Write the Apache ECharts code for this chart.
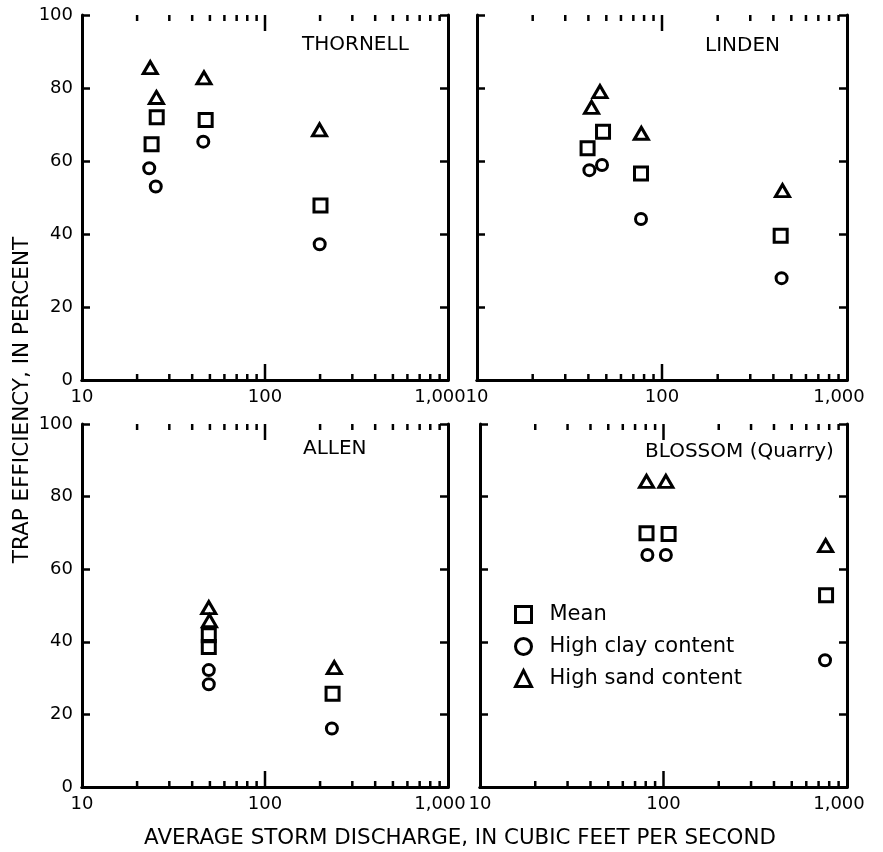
<!DOCTYPE html>
<html>
<head>
<meta charset="utf-8">
<script src="https://cdn.jsdelivr.net/npm/echarts@6/dist/echarts.min.js"></script>
<style>
html,body{margin:0;padding:0;background:#fff;}
#chart{width:883px;height:852px;}
</style>
</head>
<body>
<div id="chart"></div>
<script>
// ---- Data ----
const panelNames = ['THORNELL', 'LINDEN', 'ALLEN', 'BLOSSOM (Quarry)'];
const seriesNames = ['Mean', 'High clay content', 'High sand content'];
const xTickLabels = [10, 100, 1000];
const yTickLabels = [0, 20, 40, 60, 80, 100];
const minorTicks = [20, 30, 40, 50, 60, 70, 80, 90, 200, 300, 400, 500, 600, 700, 800, 900];
const majorTicks = [100];

// Average storm discharge (cfs) and trap efficiency (%)
const thornellMeanX = [24.0, 25.6, 47.4, 201];
const thornellMeanY = [64.6, 72.0, 71.2, 47.8];
const thornellClayX = [23.3, 25.3, 46.0, 199];
const thornellClayY = [58.0, 53.0, 65.3, 37.2];
const thornellSandX = [23.6, 25.5, 46.4, 198.6];
const thornellSandY = [85.6, 77.4, 82.8, 68.5];

const lindenMeanX = [39.6, 48.0, 77, 438];
const lindenMeanY = [63.5, 68.0, 56.6, 39.5];
const lindenClayX = [40.5, 47.4, 77, 443];
const lindenClayY = [57.5, 58.9, 44.1, 27.9];
const lindenSandX = [41.6, 46.2, 77.3, 448];
const lindenSandY = [74.7, 79.0, 67.6, 51.9];

const allenMeanX = [49.3, 49.3, 234];
const allenMeanY = [41.8, 38.6, 25.7];
const allenClayX = [49.3, 49.3, 232];
const allenClayY = [32.2, 28.3, 16.1];
const allenSandX = [49.3, 49.7, 239];
const allenSandY = [49.4, 45.8, 32.9];

const blossomMeanX = [80.8, 106.6, 769];
const blossomMeanY = [69.9, 69.7, 52.8];
const blossomClayX = [81.7, 103, 759];
const blossomClayY = [63.9, 63.9, 34.9];
const blossomSandX = [80.8, 103, 765];
const blossomSandY = [84.2, 84.2, 66.5];

const panelData = [
  [[thornellMeanX, thornellMeanY], [thornellClayX, thornellClayY], [thornellSandX, thornellSandY]],
  [[lindenMeanX, lindenMeanY], [lindenClayX, lindenClayY], [lindenSandX, lindenSandY]],
  [[allenMeanX, allenMeanY], [allenClayX, allenClayY], [allenSandX, allenSandY]],
  [[blossomMeanX, blossomMeanY], [blossomClayX, blossomClayY], [blossomSandX, blossomSandY]]
];

// ---- Layout / style ----
const FONT = 'DejaVu Sans';
const grids = [
  {left: 82, top: 15, width: 366, height: 365},
  {left: 477, top: 15, width: 370, height: 365},
  {left: 82, top: 424, width: 366, height: 363},
  {left: 480, top: 424, width: 367, height: 363}
];
const titlePos = [
  {left: 302, top: 35}, {left: 705, top: 36}, {left: 303, top: 439}, {left: 645, top: 442}
];
const symbols = ['rect', 'circle', 'triangle'];
const symbolSizes = [13, 11, [14, 12]];
const showYLabels = [true, false, true, false];

const zip = (xs, ys) => xs.map((x, i) => [x, ys[i]]);

function tickSeries(ax, values, len) {
  return {
    type: 'custom', xAxisIndex: ax, yAxisIndex: ax, silent: true,
    data: values.map(v => [v, 0]),
    renderItem: function (params, api) {
      const v = api.value(0);
      const b = api.coord([v, 0]);
      const t = api.coord([v, 100]);
      return {type: 'group', children: [
        {type: 'line', shape: {x1: b[0], y1: b[1], x2: b[0], y2: b[1] - len}, style: {stroke: '#000', lineWidth: 2.5}},
        {type: 'line', shape: {x1: t[0], y1: t[1], x2: t[0], y2: t[1] + len}, style: {stroke: '#000', lineWidth: 2.5}}
      ]};
    }
  };
}

const xAxes = [], yAxes = [], series = [];
grids.forEach((g, i) => {
  xAxes.push({
    type: 'log', logBase: 10, min: 10, max: 1000, gridIndex: i, position: 'bottom',
    axisLine: {lineStyle: {color: '#000', width: 3}},
    axisTick: {show: false}, splitLine: {show: false},
    axisLabel: {
      margin: 8, color: '#000', fontFamily: FONT, fontSize: 18, showMinLabel: true, showMaxLabel: true,
      formatter: v => v >= 1000 ? '{m|1,000}' : String(v),
      rich: {m: {fontFamily: FONT, fontSize: 18, color: '#000', padding: [0, 16, 0, 0]}}
    }
  });
  xAxes.push({
    type: 'log', logBase: 10, min: 10, max: 1000, gridIndex: i, position: 'top',
    axisLine: {lineStyle: {color: '#000', width: 3}},
    axisTick: {show: false}, axisLabel: {show: false}, splitLine: {show: false}
  });
  yAxes.push({
    type: 'value', min: 0, max: 100, interval: 20, gridIndex: i, position: 'left',
    axisLine: {show: true, lineStyle: {color: '#000', width: 3}},
    axisTick: {show: true, inside: true, length: 8, lineStyle: {color: '#000', width: 2.5}},
    splitLine: {show: false},
    axisLabel: {show: showYLabels[i], margin: 9, color: '#000', fontFamily: FONT, fontSize: 18}
  });
  yAxes.push({
    type: 'value', min: 0, max: 100, interval: 20, gridIndex: i, position: 'right',
    axisLine: {show: true, lineStyle: {color: '#000', width: 3}},
    axisTick: {show: true, inside: true, length: 8, lineStyle: {color: '#000', width: 2.5}},
    splitLine: {show: false}, axisLabel: {show: false}
  });
  const ax = 2 * i;
  series.push(tickSeries(ax, minorTicks, 6));
  series.push(tickSeries(ax, majorTicks, 16));
  panelData[i].forEach((d, k) => {
    series.push({
      type: 'scatter', name: seriesNames[k], xAxisIndex: ax, yAxisIndex: ax,
      symbol: symbols[k], symbolSize: symbolSizes[k],
      itemStyle: {color: 'rgba(0,0,0,0)', borderColor: '#000', borderWidth: 3, opacity: 1},
      emphasis: {disabled: true},
      data: zip(d[0], d[1])
    });
  });
});

const option = {
  backgroundColor: '#fff',
  animation: false,
  grid: grids,
  xAxis: xAxes,
  yAxis: yAxes,
  title: panelNames.map((n, i) => ({
    text: n, left: titlePos[i].left, top: titlePos[i].top, padding: 0,
    textStyle: {fontFamily: FONT, fontSize: 20, fontWeight: 'normal', color: '#000'}
  })),
  legend: {
    data: seriesNames.map((n, i) => ({name: n, icon: symbols[i]})),
    orient: 'vertical', left: 514, top: 604, padding: 0, itemGap: 11,
    itemWidth: 16, itemHeight: 16, selectedMode: false,
    itemStyle: {color: 'rgba(0,0,0,0)', borderColor: '#000', borderWidth: 3},
    textStyle: {fontFamily: FONT, fontSize: 21, color: '#000', lineHeight: 20, padding: [0, 0, 0, 13]}
  },
  graphic: [
    {type: 'text', x: 460, y: 838, silent: true,
     style: {text: 'AVERAGE STORM DISCHARGE, IN CUBIC FEET PER SECOND', font: '21.4px "DejaVu Sans"', fill: '#000',
             align: 'center', verticalAlign: 'middle', textAlign: 'center', textVerticalAlign: 'middle'}},
    {type: 'text', x: 22, y: 400, rotation: Math.PI / 2, silent: true,
     style: {text: 'TRAP EFFICIENCY, IN PERCENT', font: '21.5px "DejaVu Sans"', fill: '#000',
             align: 'center', verticalAlign: 'middle', textAlign: 'center', textVerticalAlign: 'middle'}}
  ],
  series: series
};

const chart = echarts.init(document.getElementById('chart'), null, {renderer: 'canvas'});
chart.setOption(option);
</script>
</body>
</html>
